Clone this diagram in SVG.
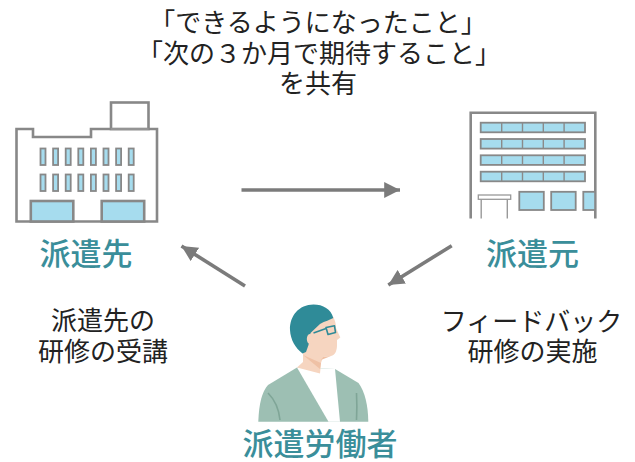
<svg xmlns="http://www.w3.org/2000/svg" width="635" height="462" viewBox="0 0 635 462">
  <style>
    .txt { font-family: "Noto Sans CJK JP", "Noto Sans", sans-serif; fill: #222; text-anchor: middle; }
    .lead { font-size: 26px; }
    .note { font-size: 26px; }
    .name { font-size: 31px; font-weight: 500; fill: #3a8e9a; }
    .wall { fill: #fff; stroke: #888; stroke-width: 2.6; stroke-linejoin: miter; }
    .win { fill: #a6dcee; stroke: #888; stroke-width: 1.8; }
    .thin { fill: none; stroke: #999; stroke-width: 1.4; }
    .conn { stroke: #7b7b7b; stroke-width: 3.6; fill: none; }
  </style>
  <defs>
    <marker id="head" viewBox="0 0 10 10" refX="10" refY="5" markerWidth="4.4" markerHeight="4.4" markerUnits="strokeWidth" orient="auto">
      <path d="M0,0 L10,5 L0,10 Z" fill="#7b7b7b"/>
    </marker>
  </defs>

  <rect width="635" height="462" fill="#fff"/>

  <!-- heading -->
  <g id="heading" class="txt lead">
    <text x="318" y="32">「できるようになったこと」</text>
    <text x="319" y="62.5">「次の３か月で期待すること」</text>
    <text x="318" y="93">を共有</text>
  </g>

  <!-- client company building -->
  <g id="haken-saki">
    <path class="wall" d="M16.5,221.5 L16.5,129 L33,129 L33,137 L91,137 L91,129 L157,129 L157,221.5 Z"/>
    <rect class="wall" x="111" y="102.5" width="37.5" height="26.5"/>
    <line class="thin" x1="111" y1="129" x2="148.5" y2="129"/>
    <g class="win">
      <rect x="40.5" y="148.5" width="5" height="16.5"/>
      <rect x="53.1" y="148.5" width="5" height="16.5"/>
      <rect x="65.7" y="148.5" width="5" height="16.5"/>
      <rect x="78.3" y="148.5" width="5" height="16.5"/>
      <rect x="90.9" y="148.5" width="5" height="16.5"/>
      <rect x="103.5" y="148.5" width="5" height="16.5"/>
      <rect x="116.1" y="148.5" width="5" height="16.5"/>
      <rect x="128.7" y="148.5" width="5" height="16.5"/>
      <rect x="40.5" y="174.5" width="5" height="16.5"/>
      <rect x="53.1" y="174.5" width="5" height="16.5"/>
      <rect x="65.7" y="174.5" width="5" height="16.5"/>
      <rect x="78.3" y="174.5" width="5" height="16.5"/>
      <rect x="90.9" y="174.5" width="5" height="16.5"/>
      <rect x="103.5" y="174.5" width="5" height="16.5"/>
      <rect x="116.1" y="174.5" width="5" height="16.5"/>
      <rect x="128.7" y="174.5" width="5" height="16.5"/>
    </g>
    <rect class="win" x="30.8" y="201" width="42.5" height="20.5" style="stroke-width:2.6"/>
    <rect class="win" x="101.7" y="201" width="42.5" height="20.5" style="stroke-width:2.6"/>
    <text class="txt name" x="86" y="265">派遣先</text>
  </g>

  <!-- dispatch agency building -->
  <g id="haken-moto">
    <path class="wall" d="M470.7,218.5 L470.7,112.7 L595.3,112.7 L595.3,218.5"/>
    <g class="win">
      <rect x="480.7" y="122.7" width="104.3" height="9.6"/>
      <rect x="480.7" y="139" width="104.3" height="9.6"/>
      <rect x="480.7" y="155.3" width="104.3" height="9.6"/>
      <rect x="480.7" y="171.7" width="104.3" height="9.6"/>
    </g>
    <g class="thin" style="stroke:#8a8a8a">
      <path d="M501.7,122.7 V132.3 M522.5,122.7 V132.3 M543.3,122.7 V132.3 M564.1,122.7 V132.3"/>
      <path d="M501.7,139 V148.6 M522.5,139 V148.6 M543.3,139 V148.6 M564.1,139 V148.6"/>
      <path d="M501.7,155.3 V164.9 M522.5,155.3 V164.9 M543.3,155.3 V164.9 M564.1,155.3 V164.9"/>
      <path d="M501.7,171.7 V181.3 M522.5,171.7 V181.3 M543.3,171.7 V181.3 M564.1,171.7 V181.3"/>
    </g>
    <rect x="478.3" y="195" width="32.4" height="4.3" fill="#fff" stroke="#999" stroke-width="1.3"/>
    <path class="thin" d="M481.2,199.3 V218.5 M507.3,199.3 V218.5"/>
    <rect class="win" x="519.3" y="191.8" width="24.5" height="18.2"/>
    <rect class="win" x="551.2" y="191.8" width="24.5" height="18.2"/>
    <rect class="win" x="583.3" y="191.8" width="11.8" height="18.2"/>
    <text class="txt name" x="532.5" y="265">派遣元</text>
  </g>

  <!-- dispatched worker -->
  <g id="worker">
    <!-- jacket -->
    <path d="M297,367.5 L268,385 C262,392 259,403 258.3,421.7 L368.3,421.7 C368,405 365,392 358.5,383 L335,369 Z" fill="#9dbfb3"/>
    <!-- shirt -->
    <path d="M297,367.5 L335,369 L340,421.7 L328.5,421.7 Z" fill="#fff"/>
    <!-- jacket folds -->
    <path d="M268,393 C275,400 279,410 280,420" fill="none" stroke="#7fa597" stroke-width="1.6"/>
    <path d="M356.5,393 C357,402 357,411 356.5,420" fill="none" stroke="#7fa597" stroke-width="1.6"/>
    <!-- neck and face -->
    <path d="M303,352 L303,362 L297,367.5 L320,373.5 L321,363 L323,357 L331,356 C335,355 337,351 337,345 L337,340 L340.3,337.5 L336,328 C336,324 335,320 333,316.5 L310,320 Z" fill="#f6d5c0"/>
    <path d="M321,360 L331,356 L323,357 Z M303,355 L321,363 L320,369 Z" fill="#efc1a5"/>
    <!-- hair -->
    <path d="M333.3,318 C331,309 323,304.5 313.5,304.5 C299,304.5 289.5,316 290,330 C290.5,340 295.5,348 302.5,353.5 L306,352 L308.5,345 L310.5,333 L320,324 C325,321 330,320 333.3,318 Z" fill="#2f8b98"/>
    <!-- ear -->
    <ellipse cx="310" cy="339" rx="3.2" ry="5" fill="#f6d5c0"/>
    <!-- glasses -->
    <path d="M313.5,333 L326,328.5" stroke="#2f8b98" stroke-width="1.6" fill="none"/>
    <path d="M326,327.5 L334.5,325.8 L335.5,332.5 L328,334.5 Z" fill="none" stroke="#2f8b98" stroke-width="1.6" stroke-linejoin="round"/>
    <text class="txt name" x="320" y="455">派遣労働者</text>
  </g>

  <!-- side notes -->
  <g id="note-left" class="txt note">
    <text x="103" y="330">派遣先の</text>
    <text x="103" y="361">研修の受講</text>
  </g>
  <g id="note-right" class="txt note">
    <text x="531.5" y="331">フィードバック</text>
    <text x="532.5" y="361">研修の実施</text>
  </g>

  <!-- connectors -->
  <g id="connectors">
    <line class="conn" x1="241.5" y1="190" x2="400" y2="190" marker-end="url(#head)"/>
    <line class="conn" x1="245" y1="286" x2="181.5" y2="246" marker-end="url(#head)"/>
    <line class="conn" x1="451.7" y1="245.7" x2="388.3" y2="285" marker-end="url(#head)"/>
  </g>
</svg>
